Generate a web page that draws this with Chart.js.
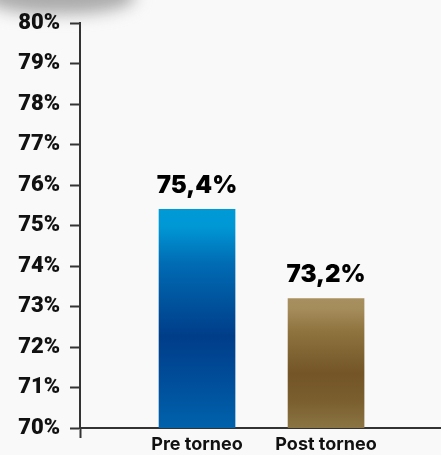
<!DOCTYPE html>
<html>
<head>
<meta charset="utf-8">
<script src="https://cdn.jsdelivr.net/npm/chart.js@4/dist/chart.umd.min.js"></script>
<style>
  html, body { margin: 0; padding: 0; background: #f9f9f9; }
  #wrap { position: relative; width: 441px; height: 455px; overflow: hidden; }
  #smudge { position: absolute; left: -15px; top: -24px; width: 150px; height: 38px; background: #ababab; filter: blur(8px); border-radius: 45%; }
  canvas { position: relative; }
</style>
</head>
<body>
<div id="wrap">
  <div id="smudge"></div>
  <canvas id="c" width="441" height="455"></canvas>
</div>
<script>
const categories = ['Pre torneo', 'Post torneo'];
const values = [75.4, 73.2];
const yMin = 70;
const yMax = 80;

const gradStops = [
  [[0, '#009ad7'], [0.08, '#0097d5'], [0.25, '#006bb3'], [0.58, '#003d89'], [0.8, '#004f9c'], [1, '#0062ab']],
  [[0, '#a88f5f'], [0.08, '#a58c5b'], [0.25, '#8f743f'], [0.58, '#735527'], [0.8, '#7b5f2f'], [1, '#8b7443']]
];

const labelPlugin = {
  id: 'valueLabels',
  afterDatasetsDraw(chart) {
    const ctx = chart.ctx;
    const meta = chart.getDatasetMeta(0);
    ctx.save();
    ctx.font = '900 24px Inter';
    ctx.fillStyle = '#000';
    ctx.textAlign = 'center';
    ctx.textBaseline = 'alphabetic';
    meta.data.forEach((el, i) => {
      const txt = values[i].toFixed(1).replace('.', ',') + '%';
      ctx.fillText(txt, el.x, el.y - 16);
    });
    ctx.restore();
  }
};

new Chart(document.getElementById('c'), {
  type: 'bar',
  data: {
    datasets: [{
      data: values.map((v, i) => ({ x: i, y: v })),
      barThickness: 76,
      borderWidth: 0,
      backgroundColor(context) {
        const chart = context.chart;
        const area = chart.chartArea;
        const i = context.dataIndex;
        if (!area || i === undefined) return '#0062ab';
        const top = chart.scales.y.getPixelForValue(values[i]);
        const bottom = chart.scales.y.getPixelForValue(yMin);
        const g = chart.ctx.createLinearGradient(0, top, 0, bottom);
        gradStops[i].forEach(s => g.addColorStop(s[0], s[1]));
        return g;
      }
    }]
  },
  options: {
    responsive: false,
    animation: false,
    layout: { padding: { top: 23, right: 0, left: 0, bottom: 0 } },
    plugins: { legend: { display: false }, tooltip: { enabled: false } },
    scales: {
      x: {
        type: 'linear',
        offset: false,
        min: -0.907,
        max: 1.891,
        afterBuildTicks(scale) {
          scale.ticks = [{ value: scale.min }, { value: 0 }, { value: 1 }];
        },
        afterFit(scale) { scale.height = 27; },
        border: { display: true, color: '#333', width: 2 },
        grid: {
          offset: false,
          drawOnChartArea: false,
          drawTicks: true,
          tickLength: 10,
          tickWidth: 2,
          tickColor: (ctx) => ctx.index === 0 ? '#333' : 'rgba(0,0,0,0)'
        },
        ticks: {
          autoSkip: false,
          maxRotation: 0,
          padding: -4,
          color: '#111',
          font: { family: 'Inter', weight: '700', size: 18 },
          callback: (v) => categories[v] !== undefined ? categories[v] : ''
        }
      },
      y: {
        min: yMin,
        max: yMax,
        afterFit(scale) { scale.width = 80; },
        border: { display: true, color: '#333', width: 2 },
        grid: {
          drawOnChartArea: false,
          drawTicks: true,
          tickLength: 10,
          tickWidth: 2,
          tickColor: '#333'
        },
        ticks: {
          stepSize: 1,
          padding: 10,
          color: '#111',
          font: { family: 'Roboto', weight: '900', size: 22 },
          callback: (v) => v + '%'
        }
      }
    }
  },
  plugins: [labelPlugin]
});
</script>
</body>
</html>
